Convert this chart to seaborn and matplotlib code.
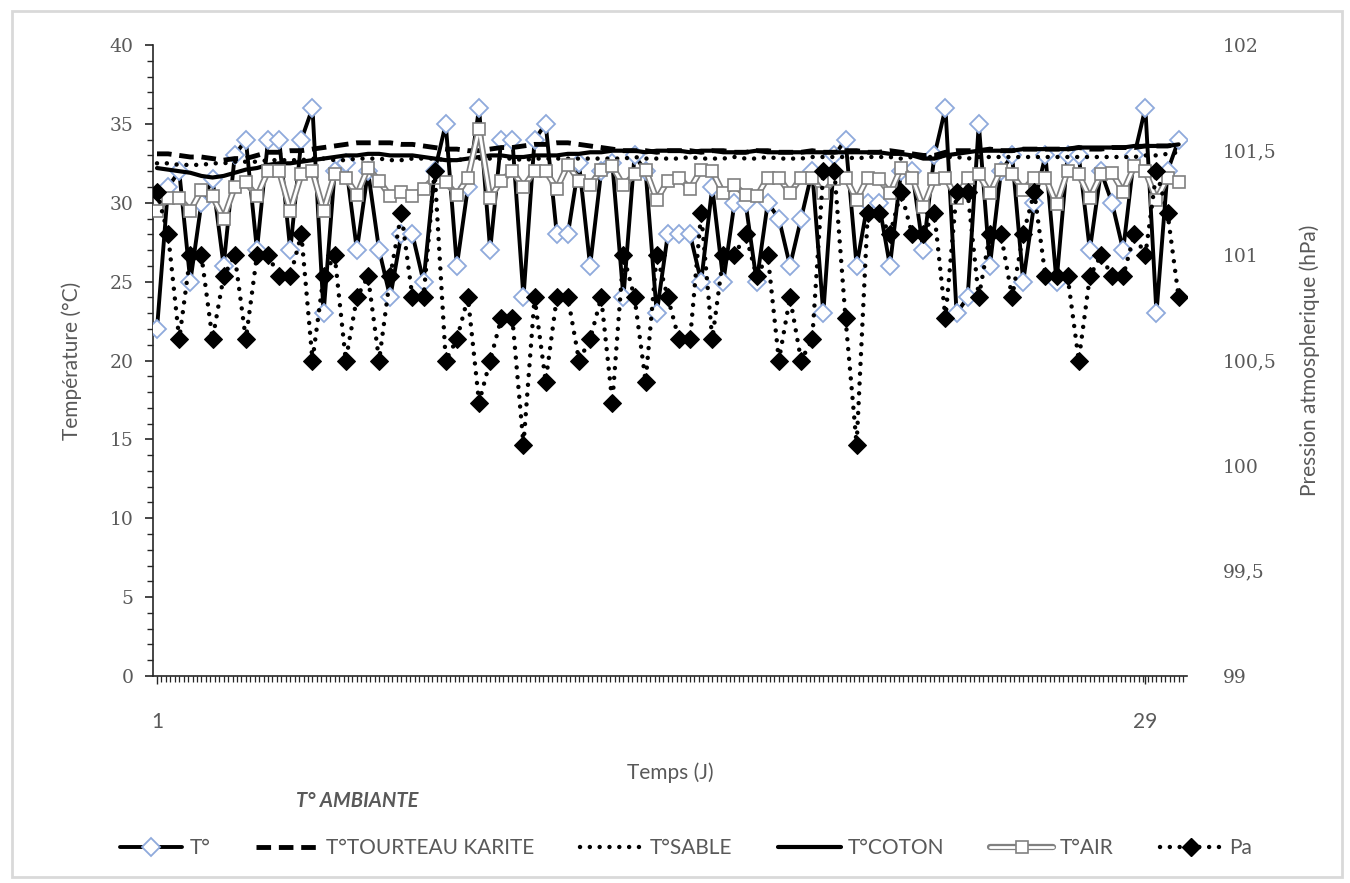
import numpy as np
import pandas as pd
import seaborn as sns
import matplotlib
matplotlib.use("Agg")
import matplotlib.pyplot as plt
from matplotlib.lines import Line2D
from matplotlib.legend_handler import HandlerTuple
from matplotlib.patches import Rectangle
from matplotlib.ticker import MultipleLocator, FuncFormatter

# ---------------- data (3 readings per day, 31 days) ----------------
t_ambiante = [22, 31, 32, 25, 30, 31.5, 26, 33, 34, 27,
              34, 34, 27, 34, 36, 23, 32, 32.5, 27, 32,
              27, 24, 28, 28, 25, 32, 35, 26, 31, 36,
              27, 34, 34, 24, 34, 35, 28, 28, 32.5, 26,
              32, 32.5, 24, 33, 32, 23, 28, 28, 28, 25,
              31, 25, 30, 30, 25, 30, 29, 26, 29, 32,
              23, 33, 34, 26, 30, 30, 26, 32, 32, 27,
              33, 36, 23, 24, 35, 26, 32, 33, 25, 30,
              33, 25, 33, 33, 27, 32, 30, 27, 33, 36,
              23, 32, 34]
t_karite = [33.1, 33.1, 33.0, 32.9, 32.9, 32.8, 32.7, 32.8, 32.8, 33.0,
            33.2, 33.2, 33.3, 33.3, 33.4, 33.5, 33.6, 33.7, 33.8, 33.8,
            33.8, 33.8, 33.7, 33.7, 33.6, 33.5, 33.4, 33.4, 33.3, 33.3,
            33.4, 33.5, 33.5, 33.6, 33.7, 33.7, 33.8, 33.8, 33.7, 33.6,
            33.5, 33.4, 33.3, 33.3, 33.3, 33.2, 33.3, 33.3, 33.3, 33.2,
            33.3, 33.3, 33.2, 33.2, 33.3, 33.3, 33.2, 33.2, 33.2, 33.3,
            33.2, 33.2, 33.3, 33.3, 33.2, 33.2, 33.3, 33.2, 33.1, 33.0,
            33.0, 33.2, 33.3, 33.3, 33.3, 33.4, 33.3, 33.3, 33.4, 33.4,
            33.4, 33.4, 33.4, 33.5, 33.4, 33.4, 33.5, 33.5, 33.5, 33.6,
            33.6, 33.6, 33.7]
t_sable = [32.5, 32.5, 32.4, 32.4, 32.4, 32.5, 32.5, 32.6, 32.6, 32.6,
           32.7, 32.7, 32.7, 32.7, 32.8, 32.8, 32.7, 32.7, 32.8, 32.8,
           32.8, 32.7, 32.7, 32.8, 32.8, 32.8, 32.7, 32.7, 32.8, 32.8,
           32.8, 32.8, 32.8, 32.7, 32.8, 32.8, 32.8, 32.8, 32.8, 32.8,
           32.8, 32.8, 32.8, 32.9, 32.8, 32.8, 32.8, 32.8, 32.9, 32.8,
           32.8, 32.8, 32.9, 32.8, 32.8, 32.9, 32.8, 32.8, 32.8, 32.9,
           32.9, 32.9, 32.9, 32.8, 32.9, 32.9, 32.9, 32.8, 32.9, 32.9,
           32.9, 32.9, 32.9, 32.8, 32.9, 32.9, 32.9, 32.9, 32.9, 32.9,
           32.9, 32.9, 32.9, 32.9, 32.9, 32.9, 32.9, 32.9, 32.9, 33.0,
           33.0, 33.1, 33.2]
t_coton = [32.2, 32.1, 32.0, 31.9, 31.7, 31.6, 31.7, 31.9, 32.1, 32.2,
           32.4, 32.5, 32.5, 32.6, 32.7, 32.8, 32.9, 33.0, 33.0, 33.1,
           33.1, 33.0, 33.0, 33.0, 32.9, 32.8, 32.7, 32.7, 32.8, 32.9,
           33.0, 33.0, 32.9, 32.9, 33.0, 33.0, 33.0, 33.1, 33.1, 33.2,
           33.2, 33.3, 33.3, 33.3, 33.2, 33.3, 33.3, 33.3, 33.2, 33.3,
           33.3, 33.2, 33.2, 33.2, 33.3, 33.2, 33.2, 33.2, 33.2, 33.2,
           33.2, 33.2, 33.2, 33.2, 33.2, 33.2, 33.1, 33.1, 33.0, 32.8,
           32.8, 33.0, 33.1, 33.2, 33.3, 33.3, 33.3, 33.3, 33.4, 33.4,
           33.4, 33.4, 33.4, 33.5, 33.5, 33.5, 33.5, 33.5, 33.6, 33.6,
           33.6, 33.6, 33.7]
t_air = [29.5, 30.3, 30.3, 29.5, 30.8, 30.4, 29.0, 31.0, 31.3, 30.4,
         32.0, 32.0, 29.5, 31.8, 32.0, 29.5, 31.8, 31.6, 30.5, 32.2,
         31.4, 30.4, 30.7, 30.4, 30.9, 31.6, 31.3, 30.5, 31.6, 34.7,
         30.3, 31.4, 32.0, 31.0, 32.0, 32.0, 30.9, 32.4, 31.4, 31.1,
         32.1, 32.3, 31.1, 31.8, 32.1, 30.2, 31.4, 31.6, 30.9, 32.1,
         32.0, 30.6, 31.1, 30.5, 30.4, 31.6, 31.6, 30.6, 31.6, 31.6,
         30.6, 31.5, 31.6, 30.2, 31.6, 31.5, 30.6, 32.2, 31.6, 29.7,
         31.5, 31.6, 30.3, 31.6, 31.8, 30.6, 32.1, 31.8, 30.8, 31.6,
         31.6, 29.9, 32.0, 31.8, 30.3, 31.8, 31.9, 30.7, 32.3, 32.0,
         30.2, 31.6, 31.3]
pa = [101.3, 101.1, 100.6, 101.0, 101.0, 100.6, 100.9, 101.0, 100.6, 101.0,
      101.0, 100.9, 100.9, 101.1, 100.5, 100.9, 101.0, 100.5, 100.8, 100.9,
      100.5, 100.9, 101.2, 100.8, 100.8, 101.4, 100.5, 100.6, 100.8, 100.3,
      100.5, 100.7, 100.7, 100.1, 100.8, 100.4, 100.8, 100.8, 100.5, 100.6,
      100.8, 100.3, 101.0, 100.8, 100.4, 101.0, 100.8, 100.6, 100.6, 101.2,
      100.6, 101.0, 101.0, 101.1, 100.9, 101.0, 100.5, 100.8, 100.5, 100.6,
      101.4, 101.4, 100.7, 100.1, 101.2, 101.2, 101.1, 101.3, 101.1, 101.1,
      101.2, 100.7, 101.3, 101.3, 100.8, 101.1, 101.1, 100.8, 101.1, 101.3,
      100.9, 100.9, 100.9, 100.5, 100.9, 101.0, 100.9, 100.9, 101.1, 101.0,
      101.4, 101.2, 100.8]
x_labels = {0: "1", 89: "29"}
series_names = ["T°", "T°TOURTEAU KARITE", "T°SABLE", "T°COTON", "T°AIR", "Pa"]

idx = np.arange(len(t_ambiante))

# ---------------- style ----------------
sns.set_theme(style="white")
plt.rcParams['font.family'] = ['Lato', 'DejaVu Sans']
grey = '#595959'
air_grey = '#808080'

fig = plt.figure(figsize=(13.5, 8.83), dpi=100)
ax = fig.add_axes([153/1350, 1 - 676/883, (1187-153)/1350, (676-45)/883])
ax2 = ax.twinx()

dotted = (0, (0.01, 2.2))

# T°
sns.lineplot(x=idx, y=t_ambiante, ax=ax, color='black', lw=2.8,
             marker='D', markersize=9, markerfacecolor='white',
             markeredgecolor='#8faadc', markeredgewidth=1.3, zorder=3)
# T° Tourteau karité
sns.lineplot(x=idx, y=t_karite, ax=ax, color='black', lw=3.5,
             linestyle=(0, (3, 1.6)), zorder=3)
# T° sable
sns.lineplot(x=idx, y=t_sable, ax=ax, color='black', lw=3.2,
             linestyle=dotted, dash_capstyle='round', zorder=3)
# T° coton
sns.lineplot(x=idx, y=t_coton, ax=ax, color='black', lw=3.0, zorder=3)
# T° air (double line)
sns.lineplot(x=idx, y=t_air, ax=ax, color=air_grey, lw=4.5, zorder=4)
sns.lineplot(x=idx, y=t_air, ax=ax, color='white', lw=2.0,
             marker='s', markersize=8, markerfacecolor='white',
             markeredgecolor=air_grey, markeredgewidth=1.2, zorder=5)
# Pression
sns.lineplot(x=idx, y=pa, ax=ax2, color='black', lw=3.2,
             linestyle=dotted, dash_capstyle='round',
             marker='D', markersize=9, markerfacecolor='black',
             markeredgecolor='black', zorder=3)

# ---------------- axes ----------------
ax.set_xlim(-0.36, 92.75)
ax.set_ylim(0, 40)
ax2.set_ylim(99, 102)

ax.set_xticks(list(x_labels.keys()))
ax.set_xticklabels(list(x_labels.values()))
ax.xaxis.set_minor_locator(MultipleLocator(0.4))
ax.yaxis.set_major_locator(MultipleLocator(5))
ax.yaxis.set_minor_locator(MultipleLocator(1))
ax2.yaxis.set_major_locator(MultipleLocator(0.5))
ax2.yaxis.set_major_formatter(FuncFormatter(
    lambda v, p: (f"{v:.1f}".rstrip('0').rstrip('.')).replace('.', ',')))

ax.tick_params(axis='y', which='major', direction='out', length=6, width=1.2,
               color='#262626', labelcolor=grey, pad=8, left=True)
ax.tick_params(axis='y', which='minor', direction='out', length=4, width=1.0,
               color='#262626', left=True)
ax.tick_params(axis='x', which='major', direction='out', length=6, width=1.0,
               color='#262626', labelcolor=grey, pad=20, bottom=True)
ax.tick_params(axis='x', which='minor', direction='out', length=4, width=0.9,
               color='#262626', bottom=True)
ax2.tick_params(axis='y', which='both', length=0, labelcolor=grey, pad=26, right=True)
for lab in ax.get_yticklabels() + ax2.get_yticklabels():
    lab.set_fontfamily(['DejaVu Serif'])
    lab.set_fontsize(13.5)
for lab in ax.get_xticklabels():
    lab.set_fontfamily(['Lato', 'DejaVu Sans'])
    lab.set_fontsize(15)

for s in ['top', 'right']:
    ax.spines[s].set_visible(False)
for s in ['top', 'right', 'left', 'bottom']:
    ax2.spines[s].set_visible(False)
for s in ['left', 'bottom']:
    ax.spines[s].set_color('#262626')
    ax.spines[s].set_linewidth(1.2)

ax.set_ylabel("Température (°C)", fontsize=15, color=grey, labelpad=20)
ax2.set_ylabel("Pression atmospherique (hPa)", fontsize=15, color=grey, labelpad=16)
ax.set_xlabel("")

fig.text(670/1350, 1 - 773/883, "Temps (J)", fontsize=15, color=grey,
         ha='center', va='center')
fig.text(357/1350, 1 - 801/883, "T° AMBIANTE", fontsize=14.5, color=grey,
         ha='center', va='center', fontweight='bold', fontstyle='italic')

# ---------------- legend ----------------
h_t = Line2D([], [], color='black', lw=2.8, marker='D', markersize=9,
             markerfacecolor='white', markeredgecolor='#8faadc', markeredgewidth=1.3)
h_k = Line2D([], [], color='black', lw=3.5, linestyle=(0, (3, 1.6)))
h_s = Line2D([], [], color='black', lw=3.2, linestyle=dotted, dash_capstyle='round')
h_c = Line2D([], [], color='black', lw=3.0)
h_a1 = Line2D([], [], color=air_grey, lw=4.5)
h_a2 = Line2D([], [], color='white', lw=2.0, marker='s', markersize=8,
              markerfacecolor='white', markeredgecolor=air_grey, markeredgewidth=1.2)
h_p = Line2D([], [], color='black', lw=3.2, linestyle=dotted, dash_capstyle='round',
             marker='D', markersize=9, markerfacecolor='black', markeredgecolor='black')

leg = fig.legend([h_t, h_k, h_s, h_c, (h_a1, h_a2), h_p], series_names,
                 handler_map={tuple: HandlerTuple(ndivide=1, pad=0)},
                 loc='center', bbox_to_anchor=(686/1350, 1 - 848/883), ncol=6,
                 frameon=False, fontsize=15, handlelength=3.0, handletextpad=0.35,
                 columnspacing=2.2, labelcolor=grey)

# outer light frame
fig.patches.append(Rectangle((12/1350, 6/883), 1330/1350, 866/883,
                             transform=fig.transFigure, fill=False,
                             edgecolor='#d9d9d9', lw=2.0))

fig.savefig("out.png", dpi=100, facecolor='white')
